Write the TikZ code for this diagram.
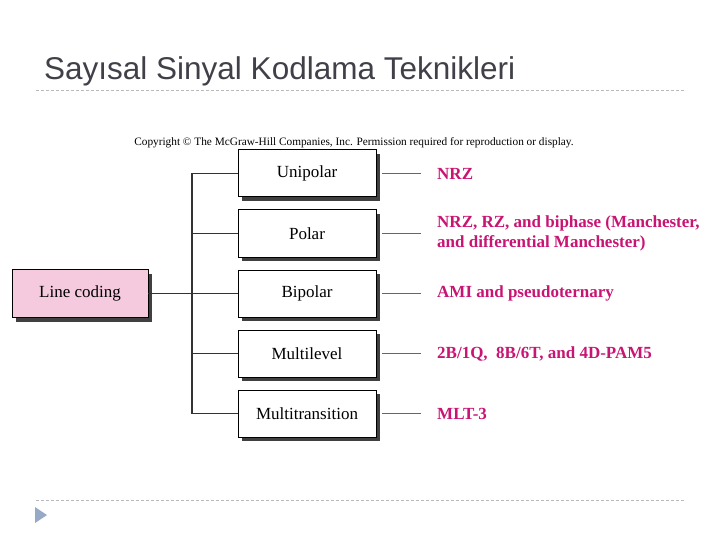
\documentclass[tikz,border=0pt]{standalone}
\usepackage{fontspec}
\setmainfont{Liberation Serif}
\newfontfamily\titlefont{Liberation Sans}
\usetikzlibrary{positioning,shadows}
\definecolor{Ink}{RGB}{64,64,72}
\definecolor{Rose}{RGB}{245,202,222}
\definecolor{Magenta}{RGB}{200,20,115}
\definecolor{Rule}{RGB}{185,185,185}
\definecolor{Mark}{RGB}{150,170,200}

\begin{document}
\begin{tikzpicture}[x=1pt,y=-1pt,node distance=13pt and 61pt,
 b/.style={draw,line width=1pt,fill=white,minimum width=138pt,minimum height=47pt,inner sep=0pt,outer sep=0pt,font=\fontsize{17}{19}\selectfont,drop shadow={shadow xshift=4pt,shadow yshift=-4pt,fill=black!75,opacity=1}},
 l/.style={inner sep=0pt,align=left,text=Magenta,font=\fontsize{17}{20}\selectfont\bfseries},
 a/.style={line width=1.4pt,black!80},
 g/.style={thin,black!60,shorten <=6pt,shorten >=16pt},
 d/.style={Rule,dash pattern=on 3pt off 2pt}]
\useasboundingbox (0,0) rectangle (720,540);
% heading and page rules
\node[anchor=base west,inner sep=0pt,text=Ink,font=\titlefont\fontsize{31.5}{34}\selectfont] (title) at (44,80) {Sayısal Sinyal Kodlama Teknikleri};
\coordinate (t1) at (36,90); \coordinate (t2) at (686,90);
\coordinate (f1) at (36,500); \coordinate (f2) at (686,500);
\draw[d] (t1) -- (t2);
\draw[d] (f1) -- (f2);
\fill[Mark] (35,507) -- (35,523) -- (47,515) -- cycle;
\node[font=\fontsize{11.3}{13}\selectfont] (copy) at (354,143) {Copyright \textcopyright{} The McGraw-Hill Companies, Inc. Permission required for reproduction or display.};
% boxes
\node[b] (uni) at (307,173.5) {Unipolar};
\node[b,below=of uni] (pol) {Polar};
\node[b,below=of pol] (bip) {Bipolar};
\node[b,below=of bip] (mul) {Multilevel};
\node[b,below=of mul] (mlt) {Multitransition};
\node[b,fill=Rose,minimum width=136pt,minimum height=48pt,left=90pt of bip] (lc) {Line coding};
% labels
\node[l,right=of uni] (nuni) {NRZ};
\node[l,right=of pol] (npol) {NRZ, RZ, and biphase (Manchester,\\and differential Manchester)};
\node[l,right=of bip] (nbip) {AMI and pseudoternary};
\node[l,right=of mul] (nmul) {2B/1Q,\ \ 8B/6T, and 4D-PAM5};
\node[l,right=of mlt] (nmlt) {MLT-3};
% connectors
\draw[a] (lc) -- (bip);
\foreach \n in {uni,pol,mul,mlt}
  \draw[a] (lc.east) ++(44pt,0) |- (\n.west);
\foreach \n in {uni,pol,bip,mul,mlt}
  \draw[g] (\n.east) -- (n\n.west);
\end{tikzpicture}
\end{document}
